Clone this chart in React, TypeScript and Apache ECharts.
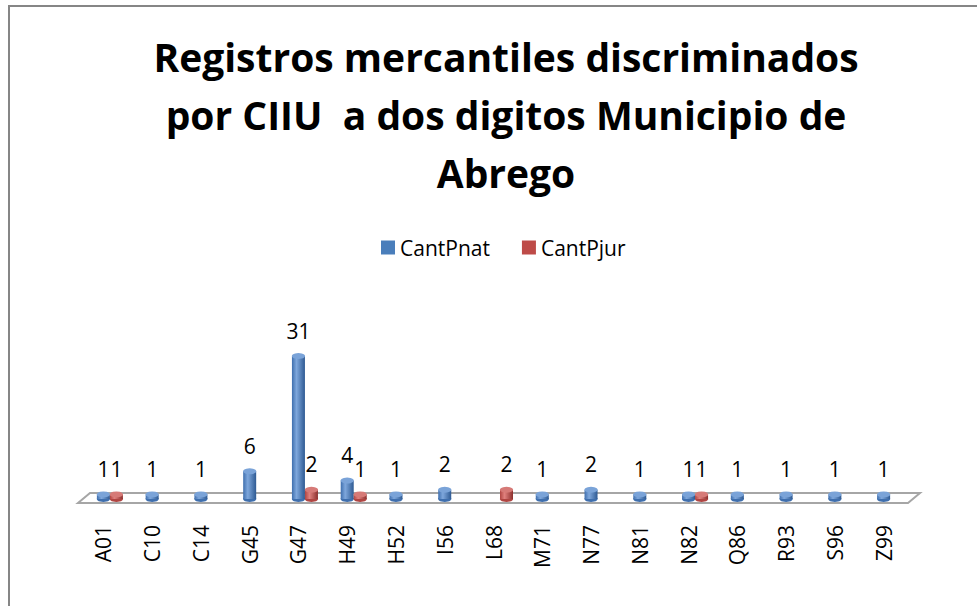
import React, { useEffect, useRef } from "react";
import * as echarts from "echarts";

const categories = ["A01", "C10", "C14", "G45", "G47", "H49", "H52", "I56", "L68", "M71", "N77", "N81", "N82", "Q86", "R93", "S96", "Z99"];
const cantPnat = [1, 1, 1, 6, 31, 4, 1, 2, null, 1, 2, 1, 1, 1, 1, 1, 1];
const cantPjur = [1, null, null, null, 2, 1, null, null, 2, null, null, null, 1, null, null, null, null];
const titleText = "Registros mercantiles discriminados\npor CIIU  a dos digitos Municipio de\nAbrego";

const FONT = "'Open Sans', Lato, sans-serif";

const blueGrad = new echarts.graphic.LinearGradient(0, 0, 1, 0, [
  { offset: 0, color: "#3f6fae" },
  { offset: 0.35, color: "#7ea7dc" },
  { offset: 1, color: "#2e5a93" },
]);
const redGrad = new echarts.graphic.LinearGradient(0, 0, 1, 0, [
  { offset: 0, color: "#b04542" },
  { offset: 0.35, color: "#e0807d" },
  { offset: 1, color: "#8c2f2d" },
]);

export default function App() {
  const ref = useRef<HTMLDivElement>(null);
  useEffect(() => {
    if (!ref.current) return;
    const chart = echarts.init(ref.current, undefined, { renderer: "svg" });
    const labelCfg = {
      show: true,
      position: "top",
      distance: 15,
      fontSize: 21,
      color: "#000",
      fontFamily: FONT,
    };
    chart.setOption({
      animation: false,
      backgroundColor: "#fff",
      title: {
        text: titleText,
        left: 501,
        top: 22,
        textAlign: "center",
        textStyle: {
          fontFamily: FONT,
          fontWeight: "bold",
          fontSize: 39,
          lineHeight: 58,
          color: "#000",
        },
      },
      legend: {
        data: [
          { name: "CantPnat", itemStyle: { color: "#4a7ebb" } },
          { name: "CantPjur", itemStyle: { color: "#be4b48" } },
        ],
        left: 376,
        top: 232,
        itemWidth: 14,
        itemHeight: 14,
        itemGap: 32,
        icon: "rect",
        textStyle: { fontFamily: FONT, fontSize: 21, color: "#000" },
      },
      graphic: [
        {
          type: "rect",
          shape: { x: 9, y: 6, width: 990, height: 640 },
          style: { fill: "none", stroke: "#868686", lineWidth: 2 },
          silent: true,
        },
        {
          type: "polygon",
          shape: { points: [[90, 493], [920, 493], [908, 503], [78, 503]] },
          style: { fill: "#fff", stroke: "#a6a6a6", lineWidth: 2 },
          silent: true,
          z: 0,
        },
      ],
      grid: { left: 79, right: 69, top: 356, bottom: 107, containLabel: false },
      xAxis: {
        type: "category",
        data: categories,
        axisLine: { show: false },
        axisTick: { show: false },
        axisLabel: {
          rotate: 90,
          fontSize: 21,
          color: "#000",
          fontFamily: FONT,
          margin: 26,
          interval: 0,
        },
      },
      yAxis: {
        type: "value",
        min: 0,
        max: 31,
        show: false,
        splitLine: { show: false },
      },
      series: [
        {
          name: "spacer",
          type: "bar",
          data: categories.map(() => null),
          barWidth: 13,
          barGap: "0%",
          silent: true,
        },
        {
          name: "CantPnat",
          type: "bar",
          data: cantPnat,
          barWidth: 13,
          barGap: "0%",
          itemStyle: { color: blueGrad },
          label: labelCfg,
          z: 2,
        },
        {
          name: "CantPjur",
          type: "bar",
          data: cantPjur,
          barWidth: 13,
          barGap: "0%",
          itemStyle: { color: redGrad },
          label: labelCfg,
          z: 2,
        },
        {
          name: "topPnat",
          type: "pictorialBar",
          data: cantPnat,
          symbol: "circle",
          symbolSize: [13, 6],
          symbolPosition: "end",
          symbolOffset: [0, "-50%"],
          itemStyle: { color: "#7aa3d8" },
          silent: true,
          z: 3,
        },
        {
          name: "topPjur",
          type: "pictorialBar",
          data: cantPjur,
          symbol: "circle",
          symbolSize: [13, 6],
          symbolPosition: "end",
          symbolOffset: [13, "-50%"],
          itemStyle: { color: "#d67a77" },
          silent: true,
          z: 3,
        },
        {
          name: "botPnat",
          type: "pictorialBar",
          data: cantPnat,
          symbol: "circle",
          symbolSize: [13, 6],
          symbolPosition: "start",
          symbolOffset: [0, "50%"],
          itemStyle: { color: "#3f6fae" },
          silent: true,
          z: 1,
        },
        {
          name: "botPjur",
          type: "pictorialBar",
          data: cantPjur,
          symbol: "circle",
          symbolSize: [13, 6],
          symbolPosition: "start",
          symbolOffset: [13, "50%"],
          itemStyle: { color: "#b04542" },
          silent: true,
          z: 1,
        },
      ],
    });
    return () => chart.dispose();
  }, []);
  return (
    <div
      ref={ref}
      style={{ position: "fixed", left: 0, top: 0, width: 977, height: 606 }}
    />
  );
}
